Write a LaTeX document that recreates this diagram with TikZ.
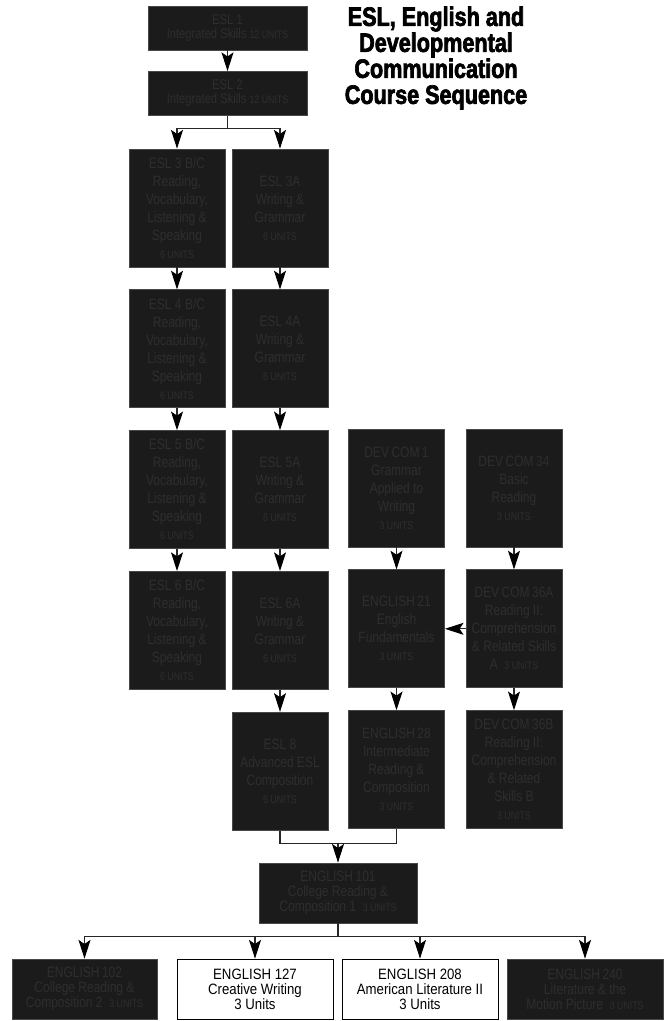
\documentclass[tikz,border=0pt]{standalone}
\usepackage{fontspec}
\usepackage{tikz}
\usetikzlibrary{arrows.meta,positioning}
\newfontfamily\condfont[FakeStretch=0.80]{Liberation Sans}
\newfontfamily\plainfont[FakeStretch=0.88]{Liberation Sans}
\newfontfamily\titlefont[FakeStretch=0.81,BoldFeatures={FakeBold=2.5}]{Liberation Sans}
\definecolor{coal}{RGB}{27,27,27}
\definecolor{inkgrey}{RGB}{46,46,46}
\definecolor{edgegrey}{RGB}{72,72,72}
\newcommand{\units}[1]{{\fontsize{8.25}{13.5}\selectfont #1}}

\begin{document}
\begin{tikzpicture}[x=0.75pt,y=-0.75pt,
  course/.style={draw=edgegrey,fill=coal,text=inkgrey,align=center,inner sep=2pt,
                 line width=0.6pt,font=\condfont\fontsize{11.25}{13.5}\selectfont},
  tall/.style={course,minimum width=72pt,minimum height=88.5pt},
  wide/.style={course,minimum width=119.25pt,minimum height=33pt,
               font=\condfont\fontsize{10.5}{10.5}\selectfont},
  low/.style={course,minimum width=117pt,minimum height=45pt,
              font=\condfont\fontsize{11.25}{11.25}\selectfont},
  open/.style={low,fill=white,draw=black,text=black,
               font=\plainfont\fontsize{11.25}{11.25}\selectfont},
  ln/.style={line width=0.8pt,draw=black!85},
  ar/.style={ln,-{Stealth[length=14pt,width=9pt,inset=3pt,color=black]}}]
\useasboundingbox (0,0) rectangle (670,1021);

% title
\node[font=\titlefont\bfseries\fontsize{20}{19.5}\selectfont,align=center] (title) at (436,58)
  {ESL, English and\\Developmental\\Communication\\Course Sequence};

% ESL 1 and 2
\node[wide] (esl1) at (227.5,28) {ESL\ 1\\Integrated Skills \units{12 UNITS}};
\node[wide] (esl2) at (227.5,93.5) {ESL\ 2\\Integrated Skills \units{12 UNITS}};

% reading column
\node[tall] (esl3bc) at (177,208)
  {ESL\ 3 B/C\\Reading,\\Vocabulary,\\Listening \&\\Speaking\\\units{6 UNITS}};
\node[tall,below=16.5pt of esl3bc] (esl4bc)
  {ESL\ 4 B/C\\Reading,\\Vocabulary,\\Listening \&\\Speaking\\\units{6 UNITS}};
\node[tall,below=16.5pt of esl4bc] (esl5bc)
  {ESL\ 5 B/C\\Reading,\\Vocabulary,\\Listening \&\\Speaking\\\units{6 UNITS}};
\node[tall,below=16.5pt of esl5bc] (esl6bc)
  {ESL\ 6 B/C\\Reading,\\Vocabulary,\\Listening \&\\Speaking\\\units{6 UNITS}};

% writing column
\node[tall] (esl3a) at (280,208) {ESL\ 3A\\Writing \&\\Grammar\\\units{6 UNITS}};
\node[tall,below=16.5pt of esl3a] (esl4a) {ESL\ 4A\\Writing \&\\Grammar\\\units{6 UNITS}};
\node[tall,below=16.5pt of esl4a] (esl5a) {ESL\ 5A\\Writing \&\\Grammar\\\units{6 UNITS}};
\node[tall,below=16.5pt of esl5a] (esl6a) {ESL\ 6A\\Writing \&\\Grammar\\\units{6 UNITS}};
\node[tall,below=16.5pt of esl6a] (esl8)
  {ESL\ 8\\Advanced ESL\\Composition\\\units{6 UNITS}};

% developmental communication
\node[tall] (dev1) at (396.5,488)
  {DEV\,COM\,1\\Grammar\\Applied to\\Writing\\\units{3 UNITS}};
\node[tall,below=16.5pt of dev1] (eng21)
  {ENGLISH\,21\\English\\Fundamentals\\\units{3 UNITS}};
\node[tall,below=16.5pt of eng21] (eng28)
  {ENGLISH\,28\\Intermediate\\Reading \&\\Composition\\\units{3 UNITS}};
\node[tall] (dev34) at (514,488) {DEV\,COM\,34\\Basic\\Reading\\\units{3 UNITS}};
\node[tall,below=16.5pt of dev34] (dev36a)
  {DEV\,COM\,36A\\Reading II:\\Comprehension\\\& Related Skills\\A\ \ \units{3 UNITS}};
\node[tall,below=16.5pt of dev36a] (dev36b)
  {DEV\,COM\,36B\\Reading II:\\Comprehension\\\& Related\\Skills B\\\units{3 UNITS}};

% college level
\node[low,minimum width=118.5pt] (eng101) at (338,893)
  {ENGLISH\,101\\College Reading \&\\Composition 1\ \ \units{3 UNITS}};
\node[low,minimum width=108.75pt] (eng102) at (84.5,989)
  {ENGLISH\,102\\College Reading \&\\Composition 2\ \ \units{3 UNITS}};
\node[open] (eng127) at (255,989) {ENGLISH 127\\Creative Writing\\3 Units};
\node[open] (eng208) at (420,989) {ENGLISH 208\\American Literature II\\3 Units};
\node[low] (eng240) at (585,989)
  {ENGLISH\,240\\Literature \& the\\Motion Picture\ \ \units{3 UNITS}};

% connectors
\draw[ar] (esl1) -- (esl2);
\draw[ln] (esl2.south) -- ++(0,13) coordinate (fork1);
\draw[ar] (fork1) -| (esl3bc.north);
\draw[ar] (fork1) -| (esl3a.north);

\draw[ar] (esl3bc) -- (esl4bc);
\draw[ar] (esl4bc) -- (esl5bc);
\draw[ar] (esl5bc) -- (esl6bc);
\draw[ar] (esl3a) -- (esl4a);
\draw[ar] (esl4a) -- (esl5a);
\draw[ar] (esl5a) -- (esl6a);
\draw[ar] (esl6a) -- (esl8);

\draw[ar] (dev1) -- (eng21);
\draw[ar] (eng21) -- (eng28);
\draw[ar] (dev34) -- (dev36a);
\draw[ar] (dev36a) -- (dev36b);
\draw[ar] (dev36a.west) -- (eng21.east);

\draw[ln] (esl8.south) -- ++(0,13) coordinate (join1) -| (eng28.south);
\draw[ar] (eng101.north |- join1) -- (eng101.north);

\draw[ln] (eng101.south) -- ++(0,13) coordinate (fork2);
\foreach \n in {eng102,eng127,eng208,eng240}
  \draw[ar] (fork2) -| (\n.north);
\end{tikzpicture}
\end{document}
